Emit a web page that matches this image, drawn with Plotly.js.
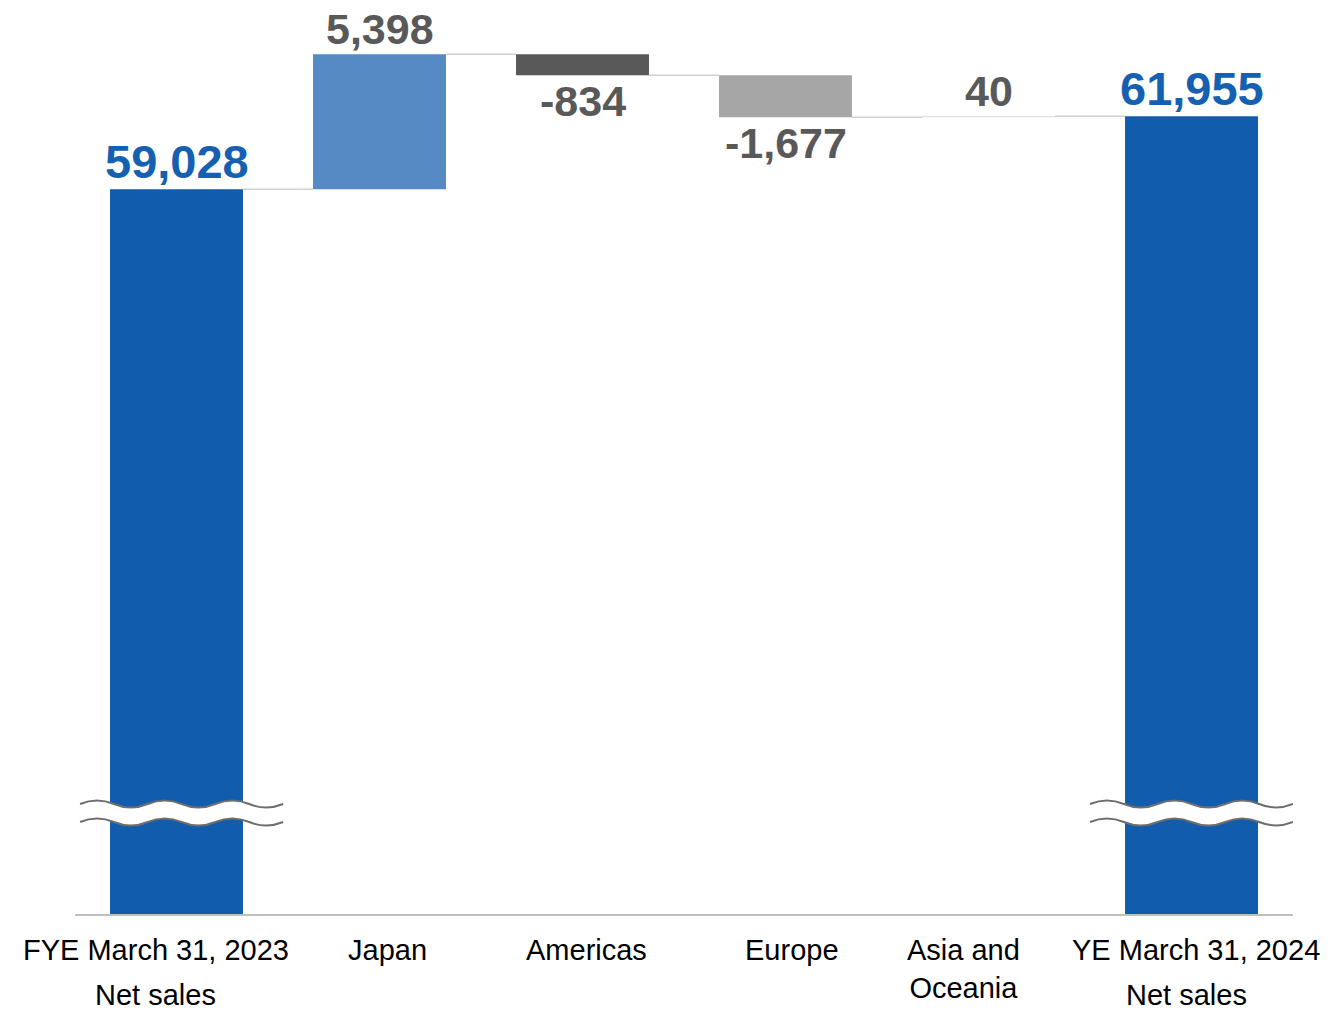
<!DOCTYPE html>
<html>
<head>
<meta charset="utf-8">
<script src="https://cdn.plot.ly/plotly-3.0.1.min.js"></script>
<style>html,body{margin:0;padding:0;background:#fff;}#chart{width:1344px;height:1013px;}</style>
</head>
<body>
<div id="chart"></div>
<script>
// ---- data ----
const categories = ["FYE March 31, 2023", "Japan", "Americas", "Europe", "Asia and<br>Oceania", "YE March 31, 2024"];
const subLabels = ["Net sales", "", "", "", "", "Net sales"];
const measures = ["total", "relative", "relative", "relative", "relative", "total"];
const values = [59028, 5398, -834, -1677, 40, 61955];

// ---- styles ----
const barColors = ["#125CAD", "#558AC5", "#595959", "#A6A6A6", "#D9D9D9", "#125CAD"];
const labelColors = ["#1560B0", "#595959", "#595959", "#595959", "#595959", "#1560B0"];
const labelSizes = [47, 43, 43, 43, 43, 47];
const catShift = [-21, 8, 4, 6, -25, 4];
const subShift = [-21, 0, 0, 0, 0, -5];
const waveStart = [-0.475, 0, 0, 0, 0, -0.5];
const FONT = "Liberation Sans, Arial, sans-serif";
const BAR_W = 0.655;

// ---- waterfall geometry from data ----
const xs = categories.map((_, i) => i);
const bases = [], heights = [], ends = [];
let cum = 0;
values.forEach((v, i) => {
  if (measures[i] === "total") { bases.push(0); heights.push(v); cum = v; }
  else { bases.push(cum); heights.push(v); cum += v; }
  ends.push(cum);
});

const bars = {
  type: "bar", x: xs, y: heights, base: bases, width: BAR_W,
  marker: { color: barColors, line: { width: 0 } },
  hoverinfo: "skip", showlegend: false
};

// connectors
const cx = [], cy = [];
for (let i = 0; i < xs.length - 1; i++) {
  cx.push(xs[i] + BAR_W / 2, xs[i + 1] - BAR_W / 2, null);
  cy.push(ends[i], ends[i], null);
}
const connectors = {
  type: "scatter", mode: "lines", x: cx, y: cy,
  line: { color: "#D0D0D0", width: 1.5 }, hoverinfo: "skip", showlegend: false
};

const annotations = [];
values.forEach((v, i) => {
  const top = measures[i] === "total" ? v : Math.max(bases[i], bases[i] + v);
  const bot = measures[i] === "total" ? 0 : Math.min(bases[i], bases[i] + v);
  const up = v >= 0;
  annotations.push({
    x: xs[i], y: up ? top : bot, xref: "x", yref: "y",
    text: v.toLocaleString("en-US"), showarrow: false,
    yanchor: up ? "bottom" : "top", yshift: up ? -1 : 0,
    font: { family: FONT, size: labelSizes[i], color: labelColors[i], weight: "bold" }
  });
  annotations.push({
    x: xs[i], y: 0, xref: "x", yref: "paper", text: categories[i], showarrow: false,
    yanchor: "top", yshift: -17, xshift: catShift[i],
    font: { family: FONT, size: 29, color: "#000" }
  });
  if (subLabels[i]) {
    annotations.push({
      x: xs[i], y: 0, xref: "x", yref: "paper", text: subLabels[i], showarrow: false,
      yanchor: "top", yshift: -63, xshift: subShift[i], borderpad: 0,
      font: { family: FONT, size: 29, color: "#000" }
    });
  }
});

// axis break marks on total bars
function wave(x0, x1, yc, n, amp, reverse) {
  const h = (x1 - x0) / n;
  let d = "";
  if (!reverse) {
    for (let k = 0; k < n; k++) {
      const s = x0 + k * h, e = s + h, c = yc + (k % 2 === 0 ? 2 * amp : -2 * amp);
      d += ` Q ${s + h / 2},${c} ${e},${yc}`;
    }
  } else {
    for (let k = n - 1; k >= 0; k--) {
      const s = x0 + k * h, c = yc + (k % 2 === 0 ? 2 * amp : -2 * amp);
      d += ` Q ${s + h / 2},${c} ${s},${yc}`;
    }
  }
  return d;
}
const shapes = [];
const yUp = 34440, yLo = 33720, amp = 140;
xs.forEach((x, i) => {
  if (measures[i] !== "total") return;
  const x0 = x + waveStart[i], x1 = x0 + 1.0, n = 6;
  shapes.push({
    type: "path", xref: "x", yref: "y", layer: "above",
    path: `M ${x0},${yUp}` + wave(x0, x1, yUp, n, amp, false) + ` L ${x1},${yLo}` + wave(x0, x1, yLo, n, amp, true) + " Z",
    fillcolor: "#ffffff", line: { width: 0 }
  });
  shapes.push({
    type: "path", xref: "x", yref: "y", layer: "above",
    path: `M ${x0},${yUp}` + wave(x0, x1, yUp, n, amp, false),
    line: { color: "#6E6E6E", width: 2 }
  });
  shapes.push({
    type: "path", xref: "x", yref: "y", layer: "above",
    path: `M ${x0},${yLo}` + wave(x0, x1, yLo, n, amp, false),
    line: { color: "#6E6E6E", width: 2 }
  });
});

const layout = {
  width: 1344, height: 1013,
  margin: { l: 75, r: 51, t: 20, b: 98 },
  paper_bgcolor: "#ffffff", plot_bgcolor: "#ffffff",
  showlegend: false, hovermode: false,
  xaxis: {
    type: "linear", range: [-0.5, categories.length - 0.5],
    showgrid: false, zeroline: false, showticklabels: false, ticks: "",
    showline: false, fixedrange: true
  },
  yaxis: {
    range: [30000, 65800], showgrid: false, zeroline: false,
    showticklabels: false, ticks: "", showline: false, fixedrange: true
  },
  annotations: annotations,
  shapes: shapes.concat([{
    type: "line", xref: "paper", yref: "paper", x0: 0, x1: 1, y0: 0, y1: 0,
    line: { color: "#BFBFBF", width: 2 }, layer: "above"
  }])
};

Plotly.newPlot("chart", [bars, connectors], layout, { displayModeBar: false, staticPlot: true });
</script>
</body>
</html>
